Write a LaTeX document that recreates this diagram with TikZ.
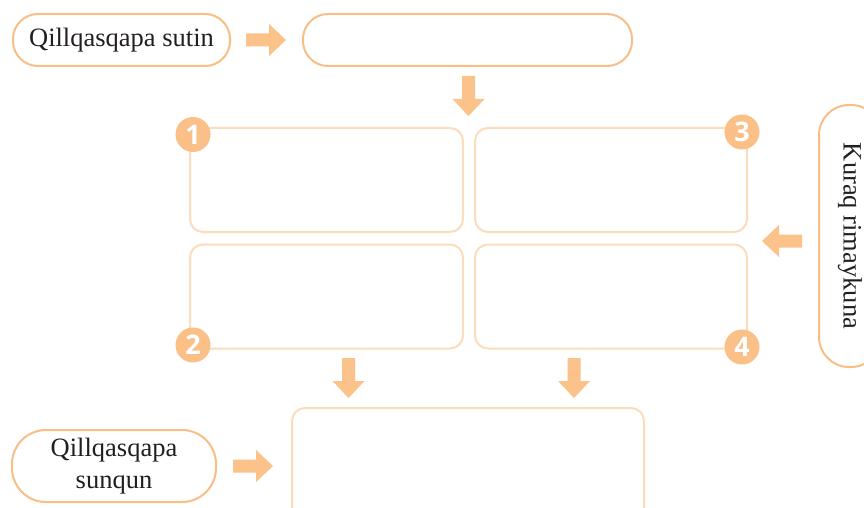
\documentclass[tikz,border=0pt]{standalone}
\usepackage{fontspec}
\setmainfont{Liberation Serif}
\newfontfamily\numfont{Open Sans}
\definecolor{pillc}{HTML}{F9BE85}
\definecolor{boxc}{HTML}{FDDCBB}
\definecolor{arrowc}{HTML}{FBC289}
\definecolor{circc}{HTML}{FBC087}
\definecolor{txtc}{HTML}{231F20}
\tikzset{
  pill/.style={draw=pillc, line width=2pt, fill=white, text=txtc, font=\fontsize{26.5}{32}\selectfont, inner sep=0pt},
  gridbox/.style={draw=boxc, line width=2pt, rounded corners=13pt, inner sep=0pt},
  numcirc/.style={circle, fill=circc, minimum size=35pt, inner sep=0pt, text=white, font=\numfont\bfseries\fontsize{27}{27}\selectfont},
  blockarrow/.pic={\fill[arrowc] (0,-6.5)--(23,-6.5)--(23,-16)--(40,0)--(23,16)--(23,6.5)--(0,6.5)--cycle;}
}
\begin{document}
\begin{tikzpicture}[x=1pt,y=1pt]
\clip (0,0) rectangle (864,-508);
\fill[white] (0,0) rectangle (864,-508);
% top row
\node[pill, rounded corners=25pt, minimum width=217pt, minimum height=52pt] (title) at (121.5,-40) {Qillqasqapa sutin};
\node[pill, rounded corners=25pt, minimum width=329pt, minimum height=52pt] (titlebox) at (467.5,-40) {};
\pic at (246,-40) {blockarrow};
\pic[rotate=-90] at (468.5,-76) {blockarrow};
% grid
\node[gridbox, minimum width=273pt, minimum height=104pt] (b1) at (326.5,-180) {};
\node[gridbox, minimum width=272pt, minimum height=104pt] (b3) at (611,-180) {};
\node[gridbox, minimum width=273pt, minimum height=104pt] (b2) at (326.5,-296.5) {};
\node[gridbox, minimum width=272pt, minimum height=104pt] (b4) at (611,-296.5) {};
\node[numcirc] (n1) at (193,-134.5) {1};
\node[numcirc] (n2) at (193,-345) {2};
\node[numcirc] (n3) at (742,-132) {3};
\node[numcirc] (n4) at (742,-347) {4};
% right pill
\node[pill, rounded corners=30pt, minimum width=262pt, minimum height=62pt, rotate=-90] (kuraq) at (850,-236) {Kuraq rimaykuna};
\pic[rotate=180] at (802,-241) {blockarrow};
% down arrows
\pic[rotate=-90] at (348.5,-358) {blockarrow};
\pic[rotate=-90] at (574,-358) {blockarrow};
% bottom
\node[gridbox, minimum width=352pt, minimum height=124pt] (bottom) at (468,-470) {};
\node[pill, rounded corners=34pt, minimum width=204pt, minimum height=72pt, align=center] (sunqun) at (114,-466) {Qillqasqapa\\sunqun};
\pic at (233,-466) {blockarrow};
\end{tikzpicture}
\end{document}
